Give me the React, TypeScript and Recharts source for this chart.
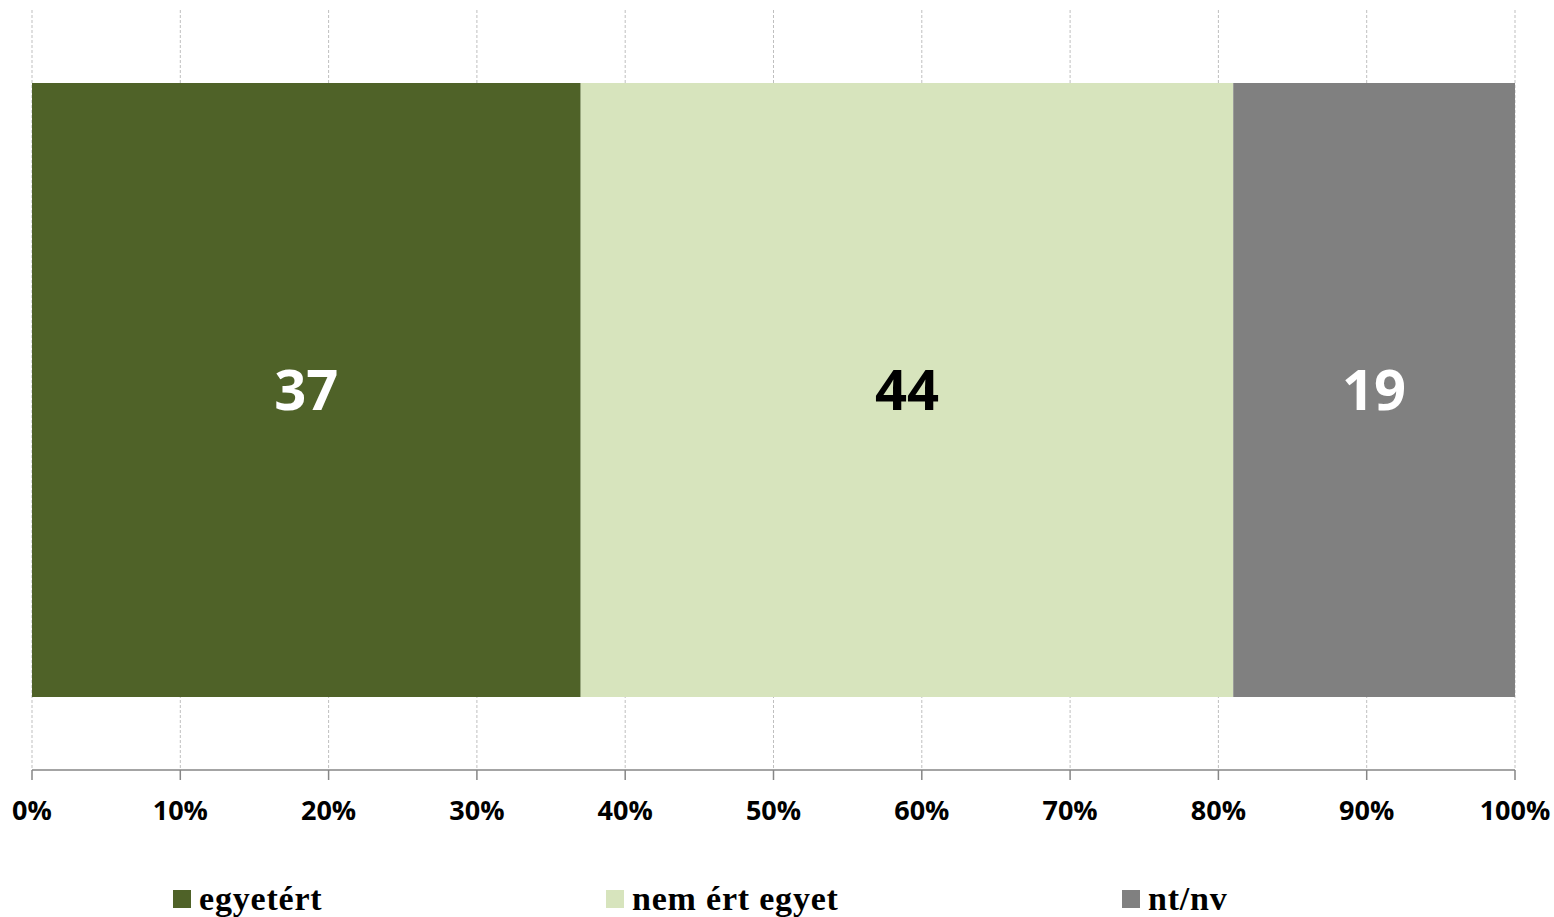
import React from 'react';
import { BarChart, Bar, XAxis, YAxis, CartesianGrid, LabelList } from 'recharts';

const categories = ['Válasz'];
const seriesNames = ['egyetért', 'nem ért egyet', 'nt/nv'];
const seriesKeys = ['agree', 'disagree', 'nonresp'];
const agreeValues = [37];
const disagreeValues = [44];
const nonrespValues = [19];
const seriesColors = ['#4F6228', '#D7E4BD', '#808080'];
const labelColors = ['#FFFFFF', '#000000', '#FFFFFF'];
const xTicks = [0, 10, 20, 30, 40, 50, 60, 70, 80, 90, 100];
const legendLefts = [173, 606, 1122];

const data = categories.map((c, i) => ({
  name: c,
  agree: agreeValues[i],
  disagree: disagreeValues[i],
  nonresp: nonrespValues[i],
}));

const W = 1554;
const H = 917;

export default function App() {
  return (
    <div style={{ position: 'absolute', left: 0, top: 0, width: W, height: H, background: '#fff' }}>
      <BarChart
        width={W}
        height={H}
        data={data}
        layout="vertical"
        margin={{ top: 10, right: 39, left: 32, bottom: 87 }}
        barCategoryGap={73}
      >
        <CartesianGrid horizontal={false} vertical stroke="#BFBFBF" strokeDasharray="3 2" />
        <XAxis
          type="number"
          domain={[0, 100]}
          ticks={xTicks}
          interval={0}
          height={60}
          tickFormatter={(v: number) => `${v}%`}
          axisLine={{ stroke: '#868686', strokeWidth: 1.5 }}
          tickLine={{ stroke: '#868686', strokeWidth: 1.5 }}
          tickSize={10}
          tickMargin={21}
          tick={{ fill: '#000', fontSize: 27, fontWeight: 700, fontFamily: '"Open Sans", sans-serif' }}
        />
        <YAxis type="category" dataKey="name" hide width={0} />
        {seriesKeys.map((k, i) => (
          <Bar key={k} dataKey={k} stackId="a" fill={seriesColors[i]} isAnimationActive={false} name={seriesNames[i]}>
            <LabelList
              dataKey={k}
              position="center"
              fill={labelColors[i]}
              style={{ fontSize: 56, fontWeight: 700, fontFamily: '"Open Sans", sans-serif' }}
            />
          </Bar>
        ))}
      </BarChart>
      {seriesNames.map((n, i) => (
        <div
          key={n}
          style={{
            position: 'absolute',
            left: legendLefts[i],
            top: 878,
            height: 42,
            display: 'flex',
            alignItems: 'center',
            fontFamily: '"Liberation Serif", serif',
            fontWeight: 700,
            fontSize: 34,
            letterSpacing: 0.8,
            color: '#000',
            whiteSpace: 'nowrap',
          }}
        >
          <span style={{ display: 'inline-block', width: 18, height: 18, background: seriesColors[i], marginRight: 8 }} />
          {n}
        </div>
      ))}
    </div>
  );
}
